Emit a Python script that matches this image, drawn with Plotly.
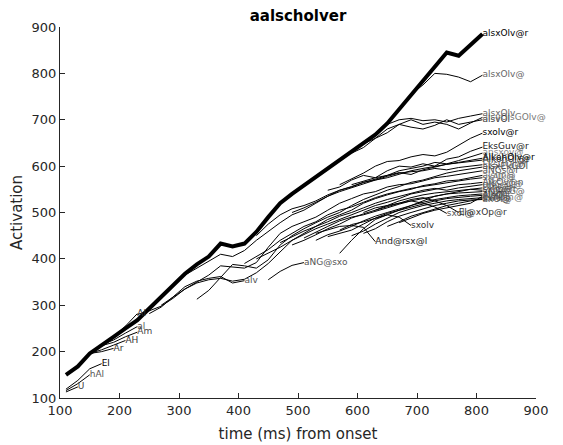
import plotly.graph_objects as go

# ---------------- data ----------------
t_start = 110
t_step = 20

main_word = "alsxOlv@r"
main_vals = [150, 168, 196, 215, 232, 250, 268, 293, 318, 342, 368, 388, 405, 433, 427, 433,
             458, 490, 520, 540, 558, 576, 595, 613, 630, 648, 668, 692, 722, 755, 785, 815,
             845, 838, 862, 885]

v_U = [113, 124]
v_hAl = [116, 131, 150]
v_El = [119, 138, 163, 174]
v_Ar = [196, 200, 207]
v_AH = [196, 204, 214, 224]
v_al = [215, 225, 240, 254]
v_Am = [213, 220, 232, 242]
v_Al = [232, 255, 282]
v_alv = [282, 296, 318, 340, 352, 358, 362, 348, 353]
v_aNGsxo = [355, 373, 386, 392]
v_Andrsxl = [455, 462, 470, 472, 468, 437]
v_sxolv = [462, 474, 480, 488, 495, 490, 472]
v_sxol = [500, 510, 515, 520, 525, 520, 512, 498]
v_ElxOpr = [505, 512, 520, 528, 532, 525, 515, 500]
v_alsxOlv_ = [722, 755, 775, 800, 798, 792, 782, 796]
v_alsxOlv = [668, 690, 700, 703, 698, 700, 695, 703, 708, 713]
v_alsvOl = [648, 660, 680, 690, 684, 680, 688, 700, 690, 695, 700]
v_alsvOlsGOlv = [628, 640, 660, 672, 690, 700, 690, 695, 690, 680, 693, 705]
v_sxolvr = [560, 572, 585, 600, 610, 612, 620, 625, 622, 630, 645, 660, 671]
v_EksGuvr = [548, 555, 570, 580, 575, 590, 600, 598, 605, 600, 615, 620, 632, 641]
v_ansxov = [560, 568, 575, 580, 590, 595, 600, 608, 605, 612, 620, 628]
v_AlkohOlvr = [450, 475, 495, 508, 515, 525, 538, 548, 556, 565, 572, 580, 586, 582, 592,
               598, 604, 608, 613, 617]
v_AlkohOlr = [500, 510, 522, 535, 545, 553, 562, 570, 575, 583, 590, 595, 600, 604, 607, 610, 613]
v_aNGsr = [280, 288, 298, 315, 335, 350, 365, 385, 383, 380, 392, 425, 455, 470, 480, 490,
           505, 520, 530, 540, 545, 555, 560, 562, 568, 575, 578, 582, 586, 590]
v_alsIm = [300, 318, 335, 348, 355, 358, 352, 356, 370, 390, 415, 440, 455, 470, 485, 495,
           505, 520, 530, 538, 545, 550, 558, 562, 568, 570, 575, 580]
v_alsxEkGOl = [313, 332, 360, 388, 385, 380, 398, 430, 450, 465, 478, 490, 500, 515, 528,
               538, 548, 556, 565, 570, 578, 585, 590, 594, 598]
v_EksGOlr = [365, 380, 395, 410, 405, 418, 440, 460, 478, 495, 505, 520, 535, 548, 555, 565,
             570, 578, 585, 588, 590, 595, 592, 597, 600, 603]
v_Ulnlr = [412, 440, 465, 485, 495, 505, 515, 525, 535, 540, 545, 550, 553]
v_sxAlk = [390, 405, 420, 440, 455, 470, 480, 495, 505, 512, 522, 532, 540, 546, 552, 556,
           560, 565, 568, 572, 575]
v_AlkOvn = [400, 412, 425, 440, 452, 465, 475, 485, 495, 505, 515, 522, 530, 540, 545, 550,
            555, 560, 562, 565]
v_aNGl = [435, 448, 460, 470, 480, 492, 500, 510, 520, 528, 535, 542, 548, 552, 548, 553, 556, 560]
v_sxImr = [430, 440, 452, 465, 475, 488, 497, 505, 515, 525, 532, 538, 542, 545, 548, 550, 548]
v_vlIGG = [445, 458, 470, 482, 490, 495, 502, 510, 518, 525, 530, 535, 540, 542, 544, 545]
v_alxImi = [440, 452, 460, 470, 482, 492, 500, 508, 515, 522, 528, 532, 536, 538, 540]
v_AlsO = [448, 455, 462, 475, 488, 498, 505, 512, 518, 525, 530, 533, 535, 537]
v_EksOm = [450, 460, 475, 488, 500, 508, 515, 520, 525, 528, 530, 532]
v_axOl = [455, 465, 480, 492, 500, 508, 515, 520, 525, 527, 528]
v_sxAl = [470, 480, 492, 500, 508, 515, 520, 525, 530]
v_alvOl = [478, 488, 498, 505, 510, 516, 520, 535]

words = ["U", "hAl", "El", "Ar", "AH", "al", "Am", "Al", "alv", "aNG@sxo", "And@rsx@l",
         "sxolv", "sxol@", "El@xOp@r", "alsxOlv@", "alsxOlv", "alsvOl", "alsvOlsGOlv@",
         "sxolv@r", "EksGuv@r", "ansxov@", "AlkohOlv@r", "AlkohOl@r", "aNGs@r", "alsIm@",
         "alsxEkGOl", "EksGOl@r", "Ulnl@r", "sxAlk@", "AlkOv@n", "aNG@l@", "sxIm@r",
         "vlIG@G@", "alxImi", "AlsO", "EksOm@", "axOl@", "sxAl@", "alvOl"]
starts = [110, 110, 110, 150, 150, 170, 170, 190, 250, 450, 530,
          570, 610, 630, 670, 630, 610, 590,
          570, 550, 590, 430, 490, 230, 270,
          330, 310, 570, 410, 430, 470, 490,
          510, 530, 550, 590, 610, 650, 670]
series_vals = [v_U, v_hAl, v_El, v_Ar, v_AH, v_al, v_Am, v_Al, v_alv, v_aNGsxo, v_Andrsxl,
               v_sxolv, v_sxol, v_ElxOpr, v_alsxOlv_, v_alsxOlv, v_alsvOl, v_alsvOlsGOlv,
               v_sxolvr, v_EksGuvr, v_ansxov, v_AlkohOlvr, v_AlkohOlr, v_aNGsr, v_alsIm,
               v_alsxEkGOl, v_EksGOlr, v_Ulnlr, v_sxAlk, v_AlkOvn, v_aNGl, v_sxImr,
               v_vlIGG, v_alxImi, v_AlsO, v_EksOm, v_axOl, v_sxAl, v_alvOl]

tick_vals = [100, 200, 300, 400, 500, 600, 700, 800, 900]

# ---------------- style ----------------
G = {1: "rgb(0,0,0)", 2: "rgb(34,34,34)", 3: "rgb(51,51,51)", 4: "rgb(68,68,68)",
     5: "rgb(85,85,85)", 6: "rgb(102,102,102)", 7: "rgb(119,119,119)", 8: "rgb(136,136,136)"}
label_shades = [4, 5, 1, 3, 3, 5, 4, 3, 5, 5, 2,
                3, 5, 3, 6, 6, 3, 7,
                1, 2, 8, 1, 2, 5, 7,
                4, 6, 5, 7, 5, 6, 4,
                6, 5, 3, 7, 5, 4, 6]
FONT = "DejaVu Sans"
AX = "rgb(38,38,38)"

fig = go.Figure()

lab_x, lab_y, lab_t, lab_c = [], [], [], []
for w, s, vals, sh in zip(words, starts, series_vals, label_shades):
    xs = [s + t_step * i for i in range(len(vals))]
    fig.add_trace(go.Scatter(x=xs, y=vals, mode="lines",
                             line=dict(color="black", width=1), hoverinfo="skip"))
    lab_x.append(xs[-1]); lab_y.append(vals[-1]); lab_t.append(w); lab_c.append(G[sh])

main_x = [t_start + t_step * i for i in range(len(main_vals))]
fig.add_trace(go.Scatter(x=main_x, y=main_vals, mode="lines",
                         line=dict(color="black", width=4), hoverinfo="skip"))
lab_x.append(main_x[-1]); lab_y.append(main_vals[-1]); lab_t.append(main_word); lab_c.append(G[1])

fig.add_trace(go.Scatter(x=lab_x, y=lab_y, text=lab_t, mode="text",
                         textposition="middle right", cliponaxis=False,
                         textfont=dict(family=FONT, size=9, color=lab_c), hoverinfo="skip"))

# page body adds an ~8px offset, margins compensate for it
fig.update_layout(
    width=563, height=445,
    margin=dict(l=52, r=35, t=19, b=55, autoexpand=False),
    paper_bgcolor="white", plot_bgcolor="white",
    showlegend=False,
    font=dict(family=FONT, color=AX),
    title=dict(text="<b>aalscholver</b>", x=0.5, xref="paper", xanchor="center",
               y=1 - 8 / 445, yanchor="middle",
               font=dict(family=FONT, size=15, color="black")),
    xaxis=dict(range=[100, 900], tickvals=tick_vals, ticks="inside", ticklen=5,
               tickcolor=AX, showline=True, linecolor=AX, linewidth=1, automargin=False,
               showgrid=False, zeroline=False, tickfont=dict(size=13, color=AX),
               title=dict(text="time (ms) from onset", font=dict(size=15, color=AX), standoff=11)),
    yaxis=dict(range=[100, 900], tickvals=tick_vals, ticks="inside", ticklen=5,
               tickcolor=AX, showline=True, linecolor=AX, linewidth=1, automargin=False,
               showgrid=False, zeroline=False, tickfont=dict(size=13, color=AX),
               title=dict(text="Activation", font=dict(size=15, color=AX), standoff=16)),
)

fig.write_html("out.html")
